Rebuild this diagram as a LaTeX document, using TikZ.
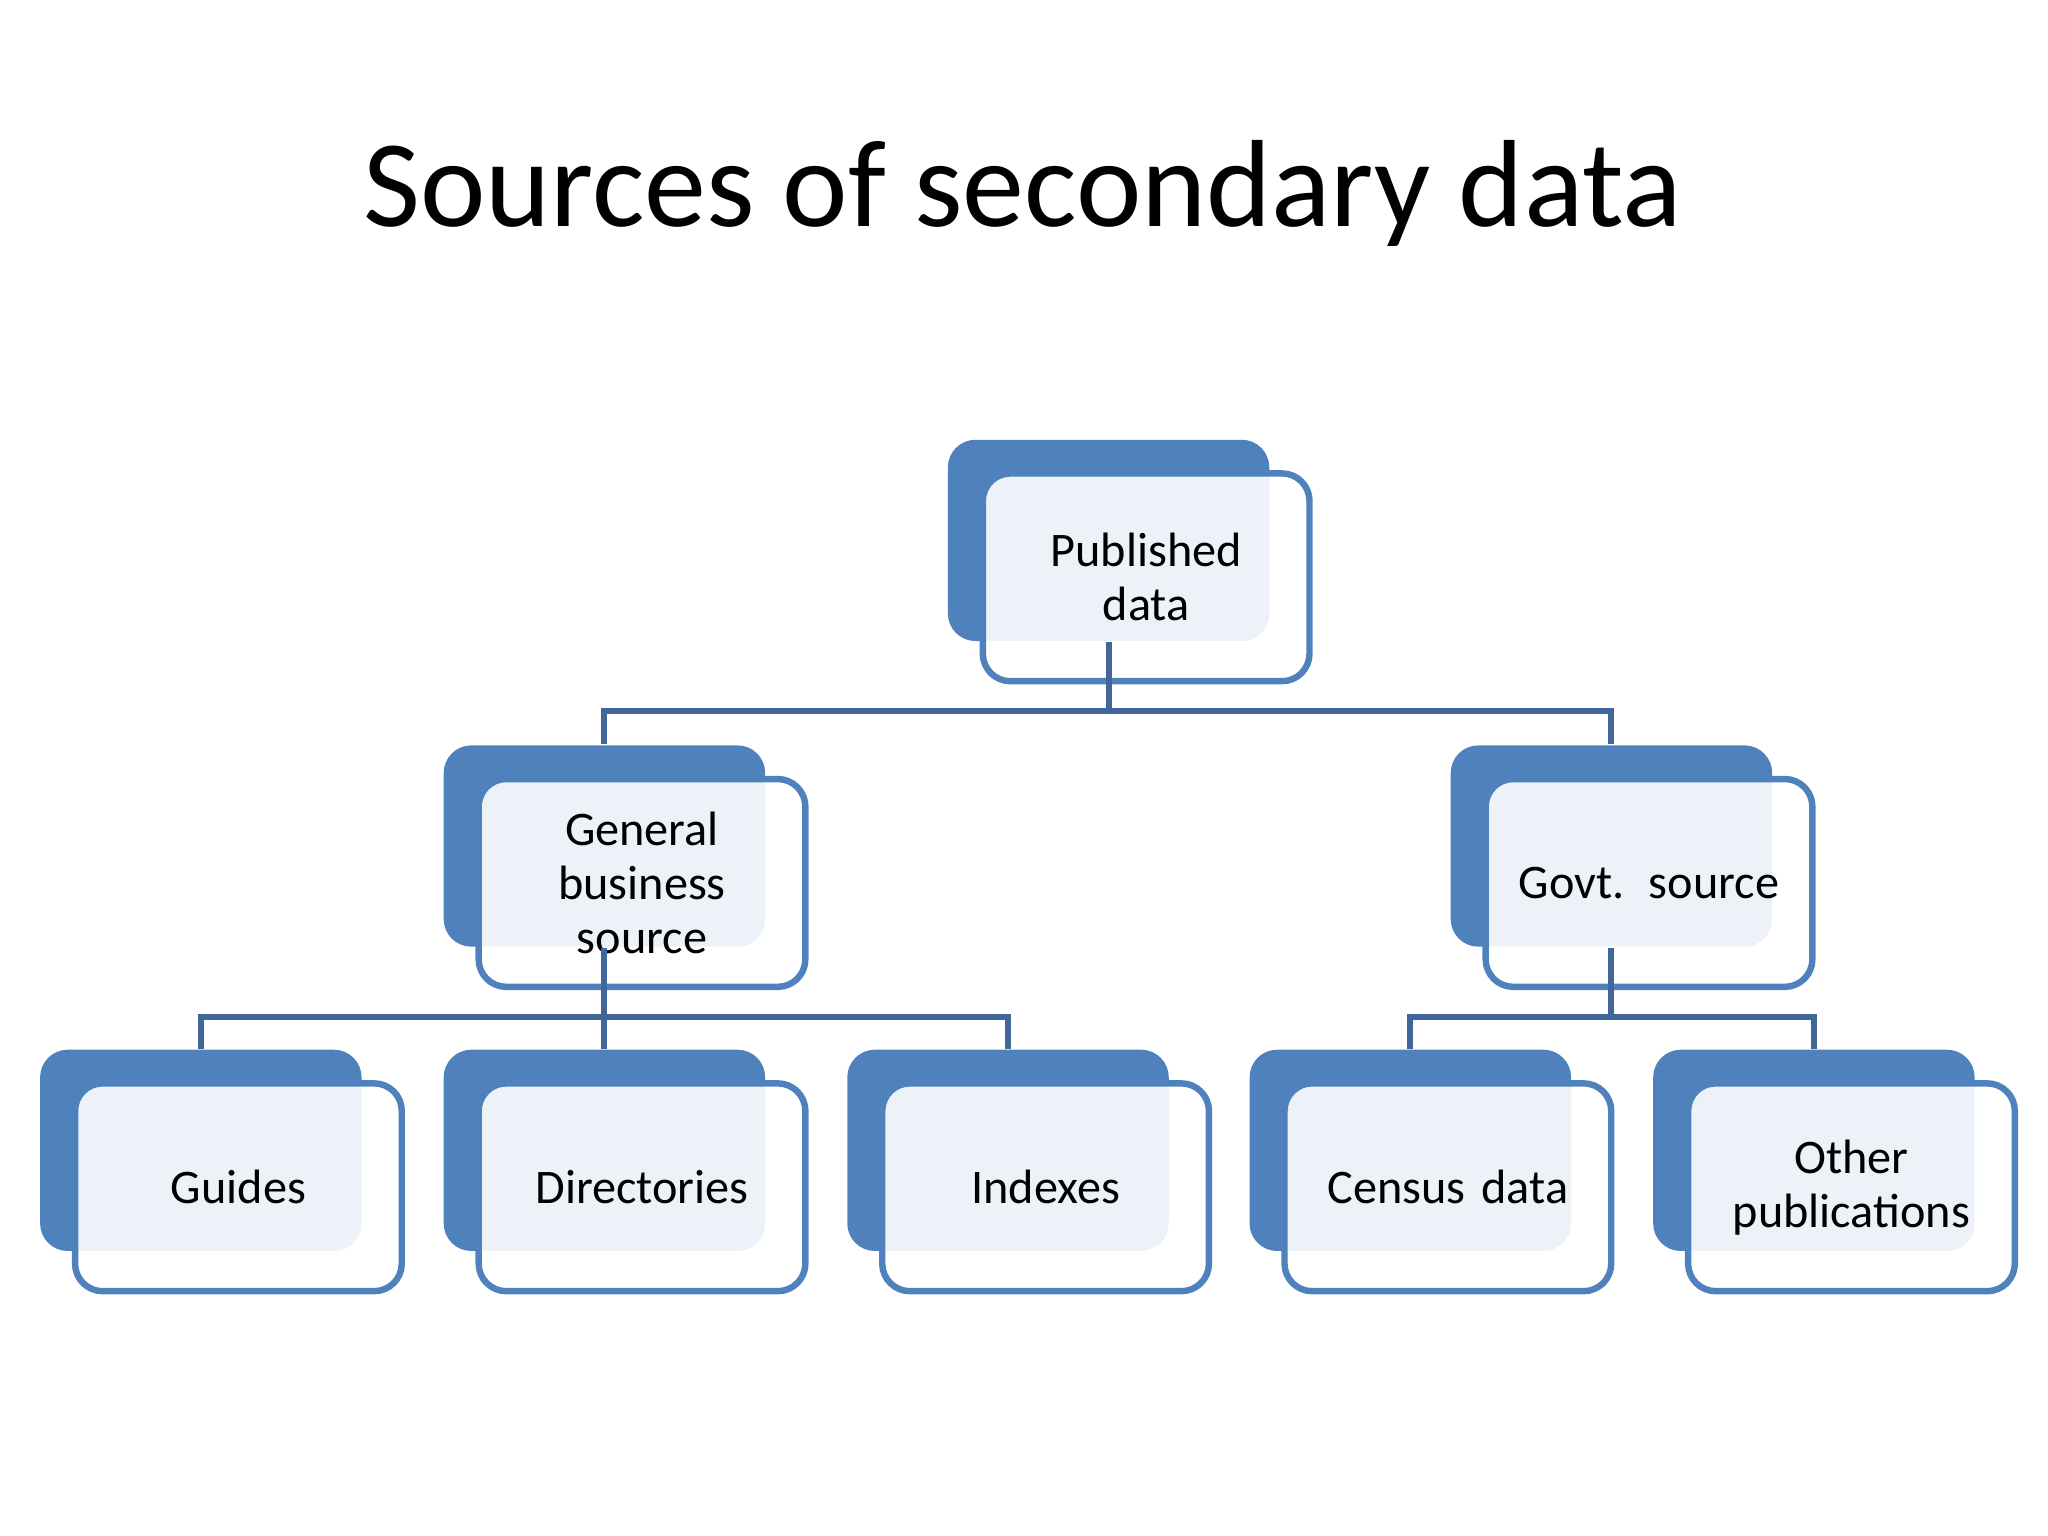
\documentclass[tikz,border=0pt]{standalone}
\usepackage{fontspec}
\setmainfont{Carlito}
\definecolor{bblue}{HTML}{4F81BD}
\definecolor{lblue}{HTML}{41679A}
\begin{document}
\begin{tikzpicture}[x=0.01cm,y=-0.01cm,
  back/.style={fill=bblue,rounded corners=6pt,minimum width=2.46cm,minimum height=1.54cm,anchor=north west,inner sep=0pt},
  front/.style={draw=bblue,line width=1.4pt,fill=white,fill opacity=0.9,text opacity=1,rounded corners=6pt,minimum width=2.50cm,minimum height=1.59cm,text width=2.3cm,anchor=north west,align=center,font=\fontsize{10.5}{11.8}\selectfont,text=black,inner sep=1pt},
  conn/.style={draw=lblue,line width=1.3pt}]
\useasboundingbox (0,0) rectangle (1568,1176);
\node[font=\fontsize{27}{32}\selectfont] (title) at (783,148) {Sources of secondary data};
\newcommand\mybox[4]{%
  \node[back] (#1b) at (#2-24,#3-23) {};
  \node[front] (#1) at (#2+1,#3+1) {#4};}
\mybox{pub}{749}{359}{Published\\data}
\mybox{gen}{363}{593}{General\\business\\source}
\mybox{gov}{1134}{593}{Govt. source}
\mybox{gui}{54}{826}{Guides}
\mybox{dir}{363}{826}{Directories}
\mybox{ind}{672}{826}{Indexes}
\mybox{cen}{980}{826}{Census data}
\mybox{oth}{1289}{826}{Other\\publications}
\draw[conn] (pubb.south) -- ++(0,53) coordinate (j1);
\draw[conn] (j1) -| (genb.north);
\draw[conn] (j1) -| (govb.north);
\draw[conn] (genb.south) -- ++(0,53) coordinate (j2);
\draw[conn] (j2) -| (guib.north);
\draw[conn] (j2) -- (dirb.north);
\draw[conn] (j2) -| (indb.north);
\draw[conn] (govb.south) -- ++(0,53) coordinate (j3);
\draw[conn] (j3) -| (cenb.north);
\draw[conn] (j3) -| (othb.north);
\end{tikzpicture}
\end{document}
